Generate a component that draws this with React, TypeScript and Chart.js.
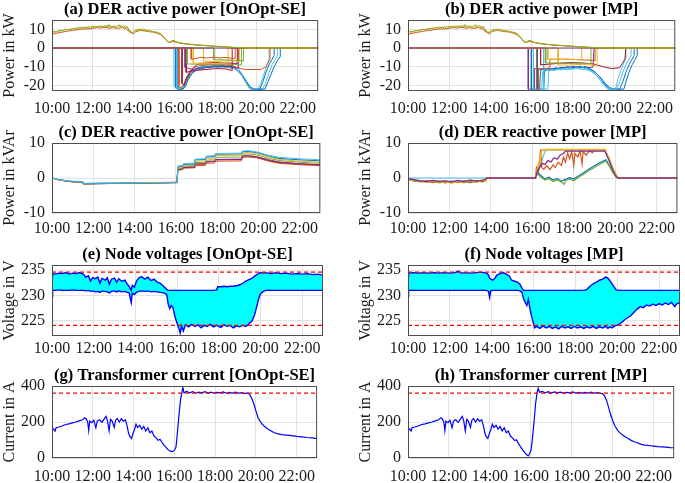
import React, { useEffect, useRef } from 'react';
import { Chart, registerables } from 'chart.js';

Chart.register(...registerables);

const FONT = "'Liberation Serif', 'Times New Roman', Times, serif";
const C_BLUE = '#0072BD';
const C_ORANGE = '#D95319';
const C_YELLOW = '#EDB120';
const C_PURPLE = '#7E2F8E';
const C_GREEN = '#77AC30';
const C_CYAN = '#4DBEEE';
const C_DRED = '#A2142F';
const M_BLUE = '#0000FF';
const M_RED = '#FF0000';
const M_CYAN = '#00FFFF';

type Pt = [number, number];
type Trip = [number, number, number];

// ---------- axis tick values ----------
const X_TICKS = [10, 12, 14, 16, 18, 20, 22];
const Y_TICKS_P = [-20, -10, 0, 10];
const Y_TICKS_Q = [-10, 0, 10];
const Y_TICKS_V = [225, 230, 235];
const Y_TICKS_I = [0, 200, 400];

// ---------- limits ----------
const ZERO_LINE: Pt[] = [[10, 0], [23, 0]];
const V_UPPER_LIMIT: Pt[] = [[10, 234.6], [23, 234.6]];
const V_LOWER_LIMIT: Pt[] = [[10, 224.1], [23, 224.1]];
const I_LIMIT: Pt[] = [[10, 360], [23, 360]];

// ---------- PV generation (kW) ----------
const pvYellow: Pt[] = [[10,7.6],[10.08,8.4],[10.2,8.8],[10.33,9.1],[10.5,9.4],[10.67,9.8],[10.83,10.0],[11,10.3],[11.17,10.6],[11.33,10.9],[11.5,11.1],[11.6,10.8],[11.7,11.4],[11.78,10.3],[11.85,11.6],[12,11.4],[12.17,11.7],[12.33,11.3],[12.5,11.9],[12.6,11.4],[12.72,12.3],[12.78,10.9],[12.88,11.8],[13.0,11.2],[13.1,12.0],[13.18,10.4],[13.28,11.6],[13.38,12.2],[13.48,10.9],[13.58,11.7],[13.68,10.8],[13.78,9.6],[13.88,8.8],[13.97,7.9],[14.05,8.6],[14.15,9.6],[14.25,10.1],[14.35,9.4],[14.45,10.2],[14.55,9.2],[14.65,9.7],[14.75,8.9],[14.85,9.3],[14.95,8.5],[15.05,8.8],[15.15,8.0],[15.25,8.2],[15.35,7.4],[15.45,6.2],[15.55,4.8],[15.65,3.2],[15.75,3.0],[15.85,3.9],[15.95,4.1],[16.05,3.3],[16.15,3.0],[16.3,2.7],[16.5,2.4],[16.75,2.0],[17.0,1.8],[17.35,1.5],[17.7,1.2],[18.0,1.0],[18.4,0.7],[18.8,0.4],[19.2,0.2],[19.6,0.05],[20.0,0],[23,0]];
const pvGreen: Pt[] = [[10,8.2],[10.08,9.0],[10.2,8.5],[10.33,9.3],[10.5,9.2],[10.67,9.9],[10.83,9.7],[11,10.4],[11.17,10.3],[11.33,10.8],[11.5,10.7],[11.6,11.2],[11.7,10.6],[11.78,11.5],[11.85,10.1],[12,11.5],[12.17,11.2],[12.33,11.8],[12.5,11.2],[12.6,12.0],[12.72,11.0],[12.78,12.6],[12.88,11.2],[13.0,11.8],[13.1,10.8],[13.18,11.7],[13.28,12.4],[13.38,10.9],[13.48,11.9],[13.58,11.0],[13.68,11.4],[13.78,9.2],[13.88,8.3],[13.97,8.5],[14.05,9.4],[14.15,10.0],[14.25,9.5],[14.35,10.3],[14.45,9.4],[14.55,9.9],[14.65,9.0],[14.75,9.5],[14.85,8.7],[14.95,9.0],[15.05,8.3],[15.15,8.5],[15.25,7.7],[15.35,7.0],[15.45,5.9],[15.55,4.6],[15.65,3.3],[15.75,3.0],[15.85,3.8],[15.95,4.1],[16.05,3.4],[16.15,3.0],[16.3,2.6],[16.5,2.3],[16.75,2.0],[17.0,1.7],[17.35,1.4],[17.7,1.2],[18.0,0.9],[18.4,0.6],[18.8,0.35],[19.2,0.15],[19.6,0.03],[20.0,0],[23,0]];
const pvRed: Pt[] = [[10,7.2],[10.1,7.6],[10.25,8.0],[10.4,8.3],[10.55,8.6],[10.7,8.9],[10.85,9.2],[11.0,9.4],[11.2,9.7],[11.4,10.0],[11.6,10.3],[11.8,10.2],[12.0,10.6],[12.2,10.9],[12.4,10.7],[12.6,11.1],[12.8,10.6],[13.0,10.9],[13.2,10.5],[13.4,11.0],[13.6,10.4],[13.8,8.6],[13.97,7.6],[14.1,8.8],[14.3,9.4],[14.5,9.2],[14.7,8.8],[14.9,8.6],[15.1,8.0],[15.3,7.2],[15.45,5.8],[15.6,3.9],[15.75,2.9],[15.9,3.6],[16.05,3.2],[16.2,2.8],[16.5,2.2],[16.8,1.9],[17.2,1.5],[17.6,1.2],[18.0,0.9],[18.5,0.55],[19.0,0.25],[19.5,0.05],[20,0],[23,0]];

// ---------- EV charging power, OnOpt-SE (kW) ----------
const evA1: Pt[] = [[10,0],[15.95,0],[15.96,-20],[16.08,-22],[16.3,-22],[16.45,-19],[16.6,-15],[16.8,-12.5],[17.0,-11],[17.3,-10],[17.8,-9.5],[18.3,-9.2],[18.8,-9.8],[19.1,-11],[19.4,-16],[19.6,-20],[19.8,-22],[20.3,-22],[20.45,-18],[20.6,-13],[20.75,-9],[20.9,-6],[21.0,-4.5],[21.01,0],[23,0]];
const evA2: Pt[] = [[10,0],[16.05,0],[16.05,-21],[16.15,-22],[16.4,-22],[16.55,-18],[16.75,-14],[16.95,-12],[17.2,-10.5],[17.6,-10],[18.2,-9.6],[18.7,-10],[19.0,-11.5],[19.3,-15],[19.55,-20],[19.7,-22],[20.15,-22],[20.3,-18],[20.45,-13],[20.6,-9],[20.75,-6],[20.85,-4],[20.85,0],[23,0]];
const evA3: Pt[] = [[10,0],[16.2,0],[16.2,-20],[16.3,-21.5],[16.45,-19],[16.6,-15],[16.75,-12],[16.9,-10.5],[17.2,-9.5],[17.7,-9],[18.3,-9],[18.8,-9.5],[19.2,-11],[19.5,-11.5],[20.2,-11.5],[20.45,-10],[20.65,-6],[20.65,0],[23,0]];
const evA4: Pt[] = [[10,0],[16.35,0],[16.35,-19],[16.45,-20],[16.6,-16],[16.75,-13],[16.9,-11],[17.05,-9],[17.3,-8.2],[17.6,-8],[18.0,-7.8],[18.5,-8],[18.9,-8.2],[19.05,-8.5],[19.05,0],[23,0]];
const evA5: Pt[] = [[10,0],[16.8,0],[16.8,-6],[17.0,-5.6],[17.3,-5.0],[17.6,-5.4],[17.9,-4.9],[18.2,-5.3],[18.5,-5.0],[18.8,-5.5],[18.95,-5.5],[18.95,0],[23,0]];
const evA6: Pt[] = [[10,0],[16.9,0],[16.9,-8],[17.4,-8.2],[17.9,-8.3],[18.3,-8.0],[18.6,-7.6],[18.6,0],[23,0]];
const evA7: Pt[] = [[10,0],[16.6,0],[16.6,-8.5],[17.0,-8.6],[17.6,-8.8],[18.2,-8.6],[18.9,-8.8],[19.25,-9],[19.25,0],[23,0]];
const evA8: Pt[] = [[10,0],[16.5,0],[16.5,-10.5],[16.7,-11],[16.9,-11.6],[17.1,-10.8],[17.3,-11.4],[17.5,-10.2],[17.7,-10.6],[17.9,-9.6],[18.1,-10.2],[18.3,-9.5],[18.5,-10.1],[18.7,-9.8],[18.9,-10.4],[19.1,-10.8],[19.1,0],[23,0]];
const evA9: Pt[] = [[10,0],[17.4,0],[17.4,-7],[18.0,-7.2],[18.6,-6.8],[19.0,-7],[19.15,-7.4],[19.15,0],[23,0]];
const evA10: Pt[] = [[10,0],[17.9,0],[17.9,-6.2],[18.5,-6.4],[19.1,-6.6],[19.35,-7],[19.35,0],[23,0]];
const evA11: Pt[] = [[10,0],[16.15,0],[16.15,-21],[16.35,-22],[16.5,-21],[16.65,-17],[16.85,-13.5],[17.1,-11.5],[17.5,-10.5],[18,-10],[18.5,-10],[18.9,-10.8],[19.2,-13],[19.5,-18],[19.7,-21],[19.9,-22],[20.4,-22],[20.55,-18],[20.7,-14],[20.85,-10],[21.0,-7],[21.15,-4.5],[21.15,0],[23,0]];
const evA12: Pt[] = [[10,0],[16.1,0],[16.1,-21],[16.25,-22],[16.4,-20.5],[16.55,-17],[16.7,-14],[16.9,-12],[17.2,-11],[17.6,-10.4],[18.1,-10.2],[18.6,-10.5],[19.0,-11.2],[19.25,-14],[19.45,-18],[19.6,-21],[19.75,-22],[20.05,-22],[20.2,-19],[20.35,-14],[20.5,-9],[20.6,-5.5],[20.6,0],[23,0]];
const evA13: Pt[] = [[10,0],[16.55,0],[16.55,-13],[16.75,-12.5],[17.0,-12],[17.5,-11.5],[18.0,-11],[18.5,-11.2],[18.8,-12],[18.8,0],[23,0]];

// ---------- EV charging power, MP (kW) ----------
const evB1: Pt[] = [[10,0],[15.85,0],[15.85,-22],[16.15,-22],[16.15,-11],[16.6,-11.5],[17.0,-11],[17.5,-10.5],[18.0,-10],[18.5,-10.2],[18.8,-10.5],[19.0,-10.2],[19.05,0],[23,0]];
const evB2: Pt[] = [[10,0],[16.0,0],[16.0,-22],[16.4,-22],[16.45,-12],[16.6,-11],[16.7,-11.5],[16.8,-10.6],[16.9,-11.8],[17.0,-10.9],[17.1,-11.6],[17.2,-10.5],[17.3,-11.2],[17.45,-10.3],[17.6,-11],[17.75,-10.1],[17.9,-10.8],[18.05,-9.8],[18.2,-10.6],[18.35,-9.7],[18.5,-10.4],[18.65,-10],[18.8,-11],[18.95,-11.8],[19.1,-13],[19.25,-14.5],[19.4,-16.5],[19.55,-19],[19.7,-21],[19.8,-22],[20.3,-22],[20.45,-18],[20.6,-13],[20.75,-9],[20.9,-6],[21.0,-4],[21.0,0],[23,0]];
const evB3: Pt[] = [[10,0],[16.1,0],[16.1,-22],[16.5,-22],[16.55,-12.5],[16.7,-11.2],[16.85,-12],[17.0,-11.3],[17.15,-12.1],[17.3,-10.9],[17.45,-11.8],[17.6,-10.7],[17.75,-11.5],[17.9,-10.4],[18.05,-11.2],[18.2,-10.2],[18.35,-11],[18.5,-10.5],[18.65,-11.2],[18.8,-11.9],[18.95,-12.8],[19.1,-14],[19.25,-15.8],[19.4,-18],[19.55,-20],[19.7,-22],[20.15,-22],[20.3,-18],[20.45,-13],[20.6,-9],[20.75,-6],[20.85,-4],[20.85,0],[23,0]];
const evB4: Pt[] = [[10,0],[16.3,0],[16.3,-22],[16.6,-22],[16.65,-12],[16.9,-11.5],[17.3,-11],[17.8,-10.5],[18.3,-10.3],[18.7,-10.6],[19.0,-12],[19.3,-15],[19.6,-19],[19.8,-21],[20.0,-22],[20.5,-22],[20.6,-18],[20.75,-13],[20.9,-9],[21.05,-6],[21.15,-4],[21.15,0],[23,0]];
const evB5: Pt[] = [[10,0],[16.25,0],[16.25,-22],[16.35,-22],[16.35,-11],[16.6,-11],[16.9,-10.8],[16.9,-6],[17.5,-6],[18.2,-6.2],[18.8,-6.5],[19.1,-6.8],[19.1,0],[23,0]];
const evB6: Pt[] = [[10,0],[16.45,0],[16.45,-9],[17,-8.5],[17.5,-8],[18,-7.8],[18.5,-8],[19,-8.5],[19.5,-10],[19.9,-11],[20.3,-10.5],[20.55,-6],[20.6,0],[23,0]];
const evB7: Pt[] = [[10,0],[16.8,0],[16.8,-6],[17.3,-6.1],[17.8,-6.0],[18.3,-6.2],[18.45,-6.2],[18.45,0],[23,0]];
const evB8: Pt[] = [[10,0],[16.7,0],[16.7,-8],[17.2,-8],[17.8,-8.3],[18.4,-8.1],[18.9,-8.4],[18.9,0],[23,0]];
const evB9: Pt[] = [[10,0],[17.3,0],[17.3,-9],[17.8,-9.2],[18.3,-8.8],[18.8,-9],[19.2,-9.3],[19.2,0],[23,0]];
const evB10: Pt[] = [[10,0],[16.6,0],[16.6,-22],[16.8,-22],[16.85,-12],[17.1,-11.8],[17.4,-11.2],[17.8,-11.6],[18.2,-11],[18.6,-11.5],[18.9,-12],[19.2,-15],[19.5,-19],[19.6,-20],[19.9,-22],[20.1,-22],[20.2,-17],[20.35,-12],[20.5,-8],[20.6,-5],[20.6,0],[23,0]];

// ---------- DER reactive power, OnOpt-SE (kVAr) ----------
const qTimes = [10, 10.3, 10.7, 11.0, 11.48, 11.52, 12.5, 13.5, 14.5, 15.5, 16.05, 16.1, 16.33, 16.37, 16.88, 16.92, 17.43, 17.47, 17.88, 17.92, 19.18, 19.22, 19.5, 19.9, 20.5, 21.0, 22.0, 23.0];
const qCyan = [0, -0.4, -0.8, -0.9, -1.0, -1.5, -1.45, -1.4, -1.3, -1.25, -1.2, 3.4, 3.6, 4.1, 4.3, 5.4, 5.5, 6.3, 6.4, 7.0, 7.1, 7.7, 7.8, 7.5, 6.5, 5.9, 5.5, 5.2];
const qBlue = [0, -0.4, -0.8, -1.0, -1.1, -1.6, -1.5, -1.45, -1.35, -1.3, -1.25, 3.2, 3.4, 3.9, 4.0, 5.2, 5.3, 6.0, 6.1, 6.8, 6.9, 7.5, 7.6, 7.3, 6.3, 5.6, 5.2, 4.9];
const qYellow = [0, -0.4, -0.8, -1.0, -1.1, -1.6, -1.5, -1.45, -1.35, -1.3, -1.25, 3.0, 3.2, 3.7, 3.8, 4.8, 4.9, 5.6, 5.7, 6.4, 6.5, 7.2, 7.3, 7.0, 6.0, 5.3, 4.8, 4.5];
const qGreen = [0, -0.5, -0.9, -1.0, -1.2, -1.7, -1.6, -1.5, -1.4, -1.35, -1.3, 2.7, 2.9, 3.4, 3.5, 4.4, 4.5, 5.1, 5.2, 5.9, 6.0, 6.8, 6.9, 6.6, 5.6, 5.0, 4.5, 4.2];
const qPurple = [0, -0.5, -0.9, -1.1, -1.2, -1.7, -1.6, -1.5, -1.4, -1.35, -1.3, 2.5, 2.7, 3.1, 3.2, 4.0, 4.1, 4.7, 4.8, 5.3, 5.4, 6.3, 6.4, 6.1, 5.2, 4.6, 4.1, 3.8];
const qRed = [0, -0.5, -0.9, -1.1, -1.2, -1.7, -1.6, -1.55, -1.45, -1.4, -1.35, 2.2, 2.4, 2.8, 2.9, 3.5, 3.6, 4.2, 4.3, 4.8, 4.9, 5.9, 6.0, 5.8, 4.8, 4.2, 3.8, 3.5];
const qDRed = [0, -0.45, -0.85, -1.05, -1.15, -1.65, -1.55, -1.5, -1.4, -1.35, -1.3, 2.4, 2.6, 3.0, 3.1, 3.9, 4.0, 4.6, 4.7, 5.2, 5.3, 6.2, 6.3, 6.0, 5.0, 4.4, 4.0, 3.7];

// ---------- DER reactive power, MP (kVAr) ----------
const dYellow: Pt[] = [[10,-0.4],[10.3,-0.7],[10.6,-0.9],[10.9,-1.1],[11.2,-0.8],[11.5,-1.2],[11.8,-1.0],[12.1,-1.3],[12.4,-0.9],[12.7,-1.2],[13.0,-0.7],[13.3,-1.1],[13.6,-0.6],[13.75,-0.9],[13.8,0],[16.15,0],[16.25,2.5],[16.35,5],[16.45,7.9],[16.6,8.1],[19.5,8.1],[19.7,5.5],[19.9,2.5],[20.05,0.5],[20.15,0],[23,0]];
const dOrange: Pt[] = [[10,-0.3],[10.3,-0.6],[10.6,-1.0],[10.9,-0.8],[11.2,-1.3],[11.5,-0.9],[11.8,-1.4],[12.1,-1.0],[12.4,-1.3],[12.7,-0.8],[13.0,-1.2],[13.3,-0.8],[13.6,-1.0],[13.75,-0.5],[13.8,0],[16.15,0],[16.2,3],[16.3,1.8],[16.4,8.2],[16.45,3],[16.55,2.5],[16.7,3.5],[16.85,2.4],[17.0,3.8],[17.1,3.0],[17.25,4.5],[17.4,3.6],[17.5,6.0],[17.6,4.5],[17.7,7.2],[17.8,5.5],[17.9,7.5],[18.0,3.5],[18.05,7.0],[18.2,6.0],[18.3,7.8],[18.4,4.0],[18.45,7.5],[18.6,6.5],[18.75,7.8],[18.9,7.2],[19.0,8],[19.5,8],[19.7,5.5],[19.9,2.5],[20.1,0.3],[20.15,0],[23,0]];
const dPurple: Pt[] = [[10,-0.2],[10.3,-0.5],[10.6,-0.8],[10.9,-1.0],[11.2,-0.7],[11.5,-1.0],[11.8,-0.8],[12.1,-1.1],[12.4,-0.7],[12.7,-1.0],[13.0,-0.6],[13.3,-0.9],[13.6,-0.7],[13.75,-0.3],[13.8,0],[16.15,0],[16.25,2],[16.4,3.5],[16.5,4.2],[16.6,3.8],[16.75,5.0],[16.9,4.6],[17.05,5.8],[17.2,5.4],[17.35,6.6],[17.5,7.0],[17.6,7.7],[19.5,7.7],[19.7,5],[19.9,2],[20.05,0.3],[20.15,0],[23,0]];
const dBlue: Pt[] = [[10,-0.5],[10.3,-0.8],[10.6,-1.1],[10.9,-0.9],[11.2,-1.2],[11.5,-1.0],[11.8,-1.3],[12.1,-0.9],[12.4,-1.2],[12.7,-1.0],[13.0,-1.3],[13.3,-0.8],[13.6,-1.1],[13.75,-0.6],[13.8,0],[16.15,0],[16.25,1.5],[16.4,0.8],[16.6,-0.3],[16.8,0.2],[17.0,-0.6],[17.2,-0.2],[17.4,-0.9],[17.6,-0.4],[17.8,0.1],[18.0,-0.3],[18.2,0.5],[18.4,1.2],[18.6,2.0],[18.8,2.8],[19.0,3.5],[19.2,4.2],[19.4,4.8],[19.55,5.2],[19.7,3.8],[19.9,1.5],[20.05,0.2],[20.15,0],[23,0]];
const dGreen: Pt[] = [[10,-0.4],[10.3,-0.9],[10.6,-0.7],[10.9,-1.2],[11.2,-1.0],[11.5,-1.4],[11.8,-1.1],[12.1,-1.4],[12.4,-1.0],[12.7,-1.4],[13.0,-0.9],[13.3,-1.2],[13.6,-0.8],[13.75,-0.7],[13.8,0],[16.15,0],[16.25,1.2],[16.4,0.3],[16.6,-0.6],[16.8,-0.2],[17.0,-1.0],[17.2,-0.5],[17.4,-1.2],[17.55,-1.8],[17.6,-0.7],[17.8,-0.3],[18.0,-0.8],[18.2,0.1],[18.4,0.8],[18.6,1.6],[18.8,2.4],[19.0,3.0],[19.2,3.7],[19.4,4.4],[19.55,4.8],[19.7,3.5],[19.9,1.4],[20.05,0.2],[20.15,0],[23,0]];
const dCyan: Pt[] = [[10,0],[13.8,0],[16.15,0],[16.3,2.2],[16.45,5.0],[16.6,7.5],[16.7,8],[19.5,8],[19.7,5.6],[19.9,2.6],[20.05,0.6],[20.15,0],[23,0]];

// ---------- node voltage envelopes [time, max, min] (V) ----------
const voltOnOpt: Trip[] = [[10.0,233.8,229.8],[10.03,234.3,231.0],[10.17,234.2,231.0],[10.33,234.4,231.1],[10.5,234.3,231.0],[10.67,234.5,231.0],[10.83,234.2,231.0],[11.0,234.4,231.1],[11.17,234.3,231.0],[11.33,234.5,231.0],[11.5,234.2,231.0],[11.62,233.6,230.9],[11.75,233.9,231.0],[11.85,232.8,230.8],[11.95,233.5,230.9],[12.08,233.3,230.7],[12.2,233.6,230.8],[12.3,232.4,230.6],[12.4,233.4,230.9],[12.55,233.0,230.8],[12.65,233.5,230.7],[12.75,232.2,230.5],[12.85,233.2,230.8],[13.0,233.4,230.9],[13.1,232.6,230.7],[13.2,233.3,230.9],[13.35,232.8,230.7],[13.5,233.0,230.8],[13.6,232.3,230.6],[13.7,231.8,230.5],[13.8,231.0,228.6],[13.85,232.0,230.4],[13.95,231.6,230.2],[14.05,232.8,230.6],[14.15,233.4,230.8],[14.3,233.7,230.9],[14.45,233.2,230.8],[14.6,233.6,230.9],[14.75,232.9,230.7],[14.9,233.2,230.8],[15.05,232.6,230.7],[15.2,232.4,230.6],[15.35,231.8,230.5],[15.5,231.2,230.2],[15.58,231.0,228.2],[15.65,231.0,227.4],[15.72,231.0,228.0],[15.8,231.0,227.6],[15.9,231.0,225.8],[16.0,231.0,224.5],[16.08,231.0,223.6],[16.15,231.0,222.6],[16.22,231.0,224.0],[16.3,231.0,223.0],[16.4,231.0,224.2],[16.55,231.0,223.8],[16.7,231.0,224.3],[16.85,231.0,223.9],[17.0,231.0,224.2],[17.15,231.0,223.6],[17.3,231.0,224.1],[17.45,231.0,223.9],[17.6,231.0,224.3],[17.75,231.0,223.8],[17.9,231.1,224.1],[17.95,231.7,224.0],[18.1,231.7,223.7],[18.25,231.8,224.2],[18.4,231.7,223.9],[18.55,231.8,224.1],[18.7,231.8,223.6],[18.85,231.9,224.0],[19.0,232.1,223.8],[19.15,232.4,224.1],[19.3,232.8,223.9],[19.45,233.1,224.4],[19.6,233.4,225.0],[19.72,233.8,226.2],[19.82,234.1,227.8],[19.92,234.3,229.4],[20.0,234.5,230.3],[20.1,234.4,230.7],[20.25,234.5,231.0],[20.5,234.3,231.0],[20.75,234.5,231.0],[21.0,234.3,231.0],[21.25,234.4,231.0],[21.5,234.2,231.0],[21.75,234.3,231.0],[22.0,234.2,231.0],[22.25,234.3,231.0],[22.5,234.1,231.0],[22.75,234.2,231.0],[23.0,234.0,231.0]];
const voltMP: Trip[] = [[10.0,233.8,229.8],[10.03,234.4,231.0],[10.25,234.5,231.0],[10.5,234.4,231.0],[10.75,234.5,231.0],[11.0,234.4,231.0],[11.25,234.5,231.0],[11.5,234.4,231.0],[11.75,234.5,231.0],[12.0,234.4,231.0],[12.25,234.5,231.0],[12.4,234.8,231.0],[12.55,234.4,231.0],[12.75,234.5,231.0],[13.0,234.4,231.0],[13.25,234.5,231.0],[13.5,234.6,231.0],[13.75,234.4,231.0],[13.85,234.0,230.8],[13.9,233.4,229.6],[13.95,233.2,230.9],[14.05,233.0,231.0],[14.15,233.4,231.0],[14.25,234.0,231.0],[14.4,234.3,231.0],[14.55,234.5,231.0],[14.7,234.2,231.0],[14.85,233.8,231.0],[14.95,233.0,231.0],[15.1,232.8,231.0],[15.25,232.6,231.0],[15.35,232.2,230.9],[15.45,231.4,230.6],[15.52,231.0,229.4],[15.6,231.0,228.6],[15.68,231.0,228.0],[15.75,231.0,229.2],[15.82,231.0,227.6],[15.9,231.0,226.0],[15.98,231.0,224.8],[16.05,231.0,223.6],[16.15,231.0,223.9],[16.3,231.0,223.5],[16.45,231.0,224.0],[16.6,231.0,223.6],[16.75,231.0,223.9],[16.9,231.0,223.5],[17.05,231.0,223.8],[17.2,231.0,223.4],[17.35,231.0,223.9],[17.5,231.0,223.6],[17.65,231.0,223.8],[17.8,231.0,223.5],[17.95,231.0,223.9],[18.1,231.0,223.6],[18.25,231.0,223.8],[18.4,231.0,223.5],[18.55,231.2,223.8],[18.7,231.8,223.6],[18.85,232.3,223.9],[19.0,232.6,223.5],[19.15,233.0,223.8],[19.3,233.2,223.6],[19.45,233.6,223.9],[19.55,233.4,223.5],[19.65,232.9,223.8],[19.75,232.3,223.6],[19.85,231.7,223.9],[19.95,231.1,224.1],[20.05,231.0,224.2],[20.2,231.0,224.6],[20.35,231.0,225.2],[20.5,231.0,225.6],[20.65,231.0,226.0],[20.8,231.0,226.7],[20.95,231.0,227.3],[21.1,231.0,227.8],[21.25,231.0,227.6],[21.4,231.0,228.1],[21.55,231.0,227.9],[21.7,231.0,228.3],[21.85,231.0,228.0],[22.0,231.0,228.4],[22.15,231.0,228.1],[22.3,231.0,228.5],[22.45,231.0,228.2],[22.6,231.0,228.6],[22.75,231.0,227.8],[22.85,231.0,228.4],[23.0,231.0,228.5]];

// ---------- transformer current (A) ----------
const currOnOpt: Pt[] = [[10,0],[10.01,158],[10.08,162],[10.15,150],[10.2,168],[10.33,172],[10.5,178],[10.67,186],[10.83,190],[11.0,195],[11.17,200],[11.33,206],[11.5,212],[11.6,224],[11.67,218],[11.75,200],[11.8,152],[11.85,205],[11.95,196],[12.05,210],[12.15,168],[12.22,205],[12.33,212],[12.45,198],[12.55,215],[12.65,232],[12.72,208],[12.8,150],[12.87,215],[12.95,205],[13.05,170],[13.12,210],[13.2,220],[13.3,200],[13.4,218],[13.5,205],[13.6,212],[13.68,180],[13.75,140],[13.82,120],[13.9,108],[13.97,135],[14.05,160],[14.12,188],[14.2,170],[14.3,182],[14.4,160],[14.5,175],[14.6,150],[14.7,168],[14.8,140],[14.9,150],[15.0,122],[15.1,112],[15.2,98],[15.3,104],[15.4,85],[15.5,70],[15.6,58],[15.7,45],[15.8,38],[15.9,35],[16.0,42],[16.08,60],[16.15,140],[16.22,230],[16.3,320],[16.37,365],[16.42,392],[16.47,362],[16.6,370],[16.75,362],[16.9,368],[17.05,360],[17.2,366],[17.35,362],[17.5,368],[17.65,361],[17.8,366],[17.95,360],[18.1,365],[18.25,362],[18.4,367],[18.55,360],[18.7,364],[18.85,361],[19.0,366],[19.15,360],[19.3,363],[19.45,358],[19.6,362],[19.7,352],[19.8,330],[19.9,300],[20.0,262],[20.1,225],[20.2,205],[20.3,190],[20.4,178],[20.5,168],[20.6,160],[20.75,150],[20.9,140],[21.05,135],[21.25,130],[21.5,127],[21.75,124],[22.0,120],[22.25,117],[22.5,114],[22.75,112],[23.0,108]];
const currMP: Pt[] = [[10,0],[10.01,158],[10.08,162],[10.15,150],[10.2,168],[10.33,172],[10.5,178],[10.67,186],[10.83,190],[11.0,195],[11.17,200],[11.33,206],[11.5,212],[11.6,224],[11.67,218],[11.75,200],[11.8,152],[11.85,205],[11.95,196],[12.05,210],[12.15,168],[12.22,205],[12.33,212],[12.45,198],[12.55,215],[12.65,232],[12.72,208],[12.8,150],[12.87,215],[12.95,205],[13.05,170],[13.12,210],[13.2,220],[13.3,200],[13.4,218],[13.5,205],[13.6,212],[13.68,180],[13.75,140],[13.82,120],[13.9,108],[13.97,135],[14.05,160],[14.12,188],[14.2,170],[14.3,182],[14.4,160],[14.5,175],[14.6,150],[14.7,168],[14.8,140],[14.9,150],[15.0,122],[15.1,112],[15.2,98],[15.3,100],[15.4,80],[15.5,62],[15.6,45],[15.7,30],[15.8,18],[15.87,12],[15.93,22],[16.0,40],[16.05,80],[16.1,135],[16.17,220],[16.23,300],[16.3,360],[16.36,388],[16.42,365],[16.55,370],[16.7,362],[16.85,368],[17.0,361],[17.15,367],[17.3,362],[17.45,366],[17.6,360],[17.75,365],[17.9,362],[18.05,367],[18.2,361],[18.35,365],[18.5,360],[18.65,364],[18.8,361],[18.95,366],[19.1,360],[19.25,363],[19.4,359],[19.5,358],[19.6,345],[19.7,320],[19.8,280],[19.9,240],[20.0,205],[20.1,180],[20.2,160],[20.3,145],[20.45,130],[20.6,118],[20.75,108],[20.9,98],[21.05,90],[21.2,85],[21.3,80],[21.4,76],[21.55,72],[21.7,70],[21.85,68],[22.0,66],[22.2,63],[22.4,62],[22.6,60],[22.8,58],[23.0,57]];

// ---------- helpers ----------
interface Series { pts: Pt[]; color: string; width?: number; dash?: number[]; fill?: string; fillColor?: string; }

const zip = (t: number[], v: number[]): Pt[] => t.map((x, i) => [x, v[i]]);
const col = (rows: Trip[], k: 1 | 2): Pt[] => rows.map(r => [r[0], r[k]]);
const s = (pts: Pt[], color: string, width = 1): Series => ({ pts, color, width });

interface PanelSpec {
  key: string; title: string; yTitle: string; yMin: number; yMax: number; yTicks: number[];
  left: number; top: number; plotW: number; plotH: number; xH: number; tickPad: number;
  series: Series[]; // first = drawn on top
}

const Y_AXIS_W = 52;
const TITLE_H = 20;
const LEFT_COL = 0;
const RIGHT_COL = 356;

const limitDash = (pts: Pt[]): Series => ({ pts, color: M_RED, width: 1.2, dash: [4, 3] });

const panels: PanelSpec[] = [
  {
    key: 'a', title: '(a) DER active power [OnOpt-SE]', yTitle: 'Power in kW', yMin: -23, yMax: 15, yTicks: Y_TICKS_P,
    left: LEFT_COL, top: 0, plotW: 271, plotH: 71, xH: 29, tickPad: 8,
    series: [s(pvGreen, C_GREEN), s(pvYellow, C_YELLOW), s(pvRed, C_ORANGE), s(ZERO_LINE, C_PURPLE),
      s(evA5, C_ORANGE), s(evA10, C_GREEN), s(evA9, C_YELLOW), s(evA6, C_YELLOW), s(evA7, C_GREEN), s(evA4, C_DRED),
      s(evA8, C_PURPLE), s(evA13, C_DRED), s(evA3, C_ORANGE), s(evA12, C_CYAN), s(evA11, C_BLUE), s(evA2, C_BLUE), s(evA1, C_CYAN)],
  },
  {
    key: 'b', title: '(b) DER active power [MP]', yTitle: 'Power in kW', yMin: -23, yMax: 15, yTicks: Y_TICKS_P,
    left: RIGHT_COL, top: 0, plotW: 272, plotH: 71, xH: 29, tickPad: 8,
    series: [s(pvGreen, C_GREEN), s(pvYellow, C_YELLOW), s(pvRed, C_ORANGE), s(ZERO_LINE, C_PURPLE),
      s(evB7, C_YELLOW), s(evB5, C_ORANGE), s(evB8, C_GREEN), s(evB9, C_YELLOW), s(evB6, C_DRED),
      s(evB3, C_CYAN), s(evB2, C_BLUE), s(evB10, C_CYAN), s(evB4, C_BLUE), s(evB1, C_PURPLE)],
  },
  {
    key: 'c', title: '(c) DER reactive power [OnOpt-SE]', yTitle: 'Power in kVAr', yMin: -10, yMax: 10, yTicks: Y_TICKS_Q,
    left: LEFT_COL, top: 123, plotW: 271, plotH: 70, xH: 28, tickPad: 6,
    series: [s(zip(qTimes, qCyan), C_CYAN), s(zip(qTimes, qBlue), C_BLUE), s(zip(qTimes, qYellow), C_YELLOW),
      s(zip(qTimes, qGreen), C_GREEN), s(zip(qTimes, qPurple), C_PURPLE), s(zip(qTimes, qDRed), C_DRED), s(zip(qTimes, qRed), C_ORANGE)],
  },
  {
    key: 'd', title: '(d) DER reactive power [MP]', yTitle: 'Power in kVAr', yMin: -10, yMax: 10, yTicks: Y_TICKS_Q,
    left: RIGHT_COL, top: 123, plotW: 272, plotH: 70, xH: 28, tickPad: 6,
    series: [s(dPurple, C_PURPLE, 1.3), s(dYellow, C_YELLOW, 1.8), s(dOrange, C_ORANGE, 1.2), s(dGreen, C_GREEN, 1.2),
      s(dBlue, C_BLUE, 1.2), s(dCyan, C_CYAN, 1.2)],
  },
  {
    key: 'e', title: '(e) Node voltages [OnOpt-SE]', yTitle: 'Voltage in V', yMin: 222, yMax: 236, yTicks: Y_TICKS_V,
    left: LEFT_COL, top: 245, plotW: 271, plotH: 71, xH: 25, tickPad: 3,
    series: [limitDash(V_UPPER_LIMIT), limitDash(V_LOWER_LIMIT), s(col(voltOnOpt, 1), M_BLUE, 1.4),
      { pts: col(voltOnOpt, 2), color: M_BLUE, width: 1.4, fill: '-1', fillColor: M_CYAN }],
  },
  {
    key: 'f', title: '(f) Node voltages [MP]', yTitle: 'Voltage in V', yMin: 222, yMax: 236, yTicks: Y_TICKS_V,
    left: RIGHT_COL, top: 245, plotW: 272, plotH: 71, xH: 25, tickPad: 3,
    series: [limitDash(V_UPPER_LIMIT), limitDash(V_LOWER_LIMIT), s(col(voltMP, 1), M_BLUE, 1.4),
      { pts: col(voltMP, 2), color: M_BLUE, width: 1.4, fill: '-1', fillColor: M_CYAN }],
  },
  {
    key: 'g', title: '(g) Transformer current [OnOpt-SE]', yTitle: 'Current in A', yMin: 0, yMax: 400, yTicks: Y_TICKS_I,
    left: LEFT_COL, top: 366, plotW: 271, plotH: 72, xH: 25, tickPad: 9,
    series: [limitDash(I_LIMIT), s(currOnOpt, M_BLUE, 1.2)],
  },
  {
    key: 'h', title: '(h) Transformer current [MP]', yTitle: 'Current in A', yMin: 0, yMax: 400, yTicks: Y_TICKS_I,
    left: RIGHT_COL, top: 366, plotW: 272, plotH: 72, xH: 25, tickPad: 9,
    series: [limitDash(I_LIMIT), s(currMP, M_BLUE, 1.2)],
  },
];

const decoPlugin = {
  id: 'panelDeco',
  afterDraw(chart: any, _args: any, opts: any) {
    const { ctx, chartArea: a } = chart;
    ctx.save();
    ctx.strokeStyle = '#4d4d4d';
    ctx.lineWidth = 1;
    ctx.strokeRect(a.left + 0.5, a.top + 0.5, a.right - a.left - 1, a.bottom - a.top - 1);
    ctx.fillStyle = '#000';
    ctx.font = `bold 16.5px ${FONT}`;
    ctx.textAlign = 'center';
    ctx.textBaseline = 'middle';
    ctx.fillText(opts.text, (a.left + a.right) / 2, a.top - 10);
    ctx.restore();
  },
};

function Panel({ spec }: { spec: PanelSpec }) {
  const ref = useRef<HTMLCanvasElement>(null);
  const W = Y_AXIS_W + spec.plotW + 1;
  const H = TITLE_H + spec.plotH + spec.xH;
  useEffect(() => {
    const canvas = ref.current;
    if (!canvas) return;
    const tickFont = { family: FONT, size: 16 };
    const chart = new Chart(canvas, {
      type: 'line',
      data: {
        datasets: spec.series.map(ser => ({
          data: ser.pts.map(([x, y]) => ({ x, y })),
          borderColor: ser.color,
          borderWidth: ser.width ?? 1,
          borderDash: ser.dash ?? [],
          pointRadius: 0,
          pointHoverRadius: 0,
          tension: 0,
          fill: ser.fill ?? false,
          backgroundColor: ser.fillColor ?? 'rgba(0,0,0,0)',
        })),
      },
      options: {
        animation: false,
        responsive: false,
        maintainAspectRatio: false,
        events: [],
        layout: { padding: { top: TITLE_H, right: 1, left: 0, bottom: 0 } },
        plugins: {
          legend: { display: false },
          tooltip: { enabled: false },
          title: { display: false },
          panelDeco: { text: spec.title },
        } as any,
        scales: {
          x: {
            type: 'linear',
            min: 10,
            max: 23,
            afterBuildTicks: (sc: any) => { sc.ticks = X_TICKS.map(v => ({ value: v })); },
            afterFit: (sc: any) => { sc.height = spec.xH; },
            grid: { color: '#e2e2e2', drawTicks: false, lineWidth: 1 },
            border: { display: false },
            ticks: {
              autoSkip: false, maxRotation: 0, minRotation: 0, padding: spec.tickPad,
              font: tickFont, color: '#1a1a1a',
              callback: (v: any) => `${v}:00`,
            },
          },
          y: {
            type: 'linear',
            min: spec.yMin,
            max: spec.yMax,
            afterBuildTicks: (sc: any) => { sc.ticks = spec.yTicks.map(v => ({ value: v })); },
            afterFit: (sc: any) => { sc.width = Y_AXIS_W; },
            grid: { color: '#e2e2e2', drawTicks: false, lineWidth: 1 },
            border: { display: false },
            ticks: { padding: 7, font: tickFont, color: '#1a1a1a', callback: (v: any) => String(v) },
            title: { display: true, text: spec.yTitle, font: tickFont, color: '#1a1a1a', padding: { top: 0, bottom: 0 } },
          },
        },
      } as any,
      plugins: [decoPlugin as any],
    });
    return () => chart.destroy();
  }, [spec]);
  return (
    <canvas
      ref={ref}
      width={W}
      height={H}
      style={{ position: 'absolute', left: spec.left, top: spec.top, width: W, height: H }}
    />
  );
}

export default function App() {
  return (
    <div style={{ position: 'absolute', left: 0, top: 0, width: 685, height: 483, overflow: 'hidden', background: '#fff' }}>
      {panels.map(p => <Panel key={p.key} spec={p} />)}
    </div>
  );
}
